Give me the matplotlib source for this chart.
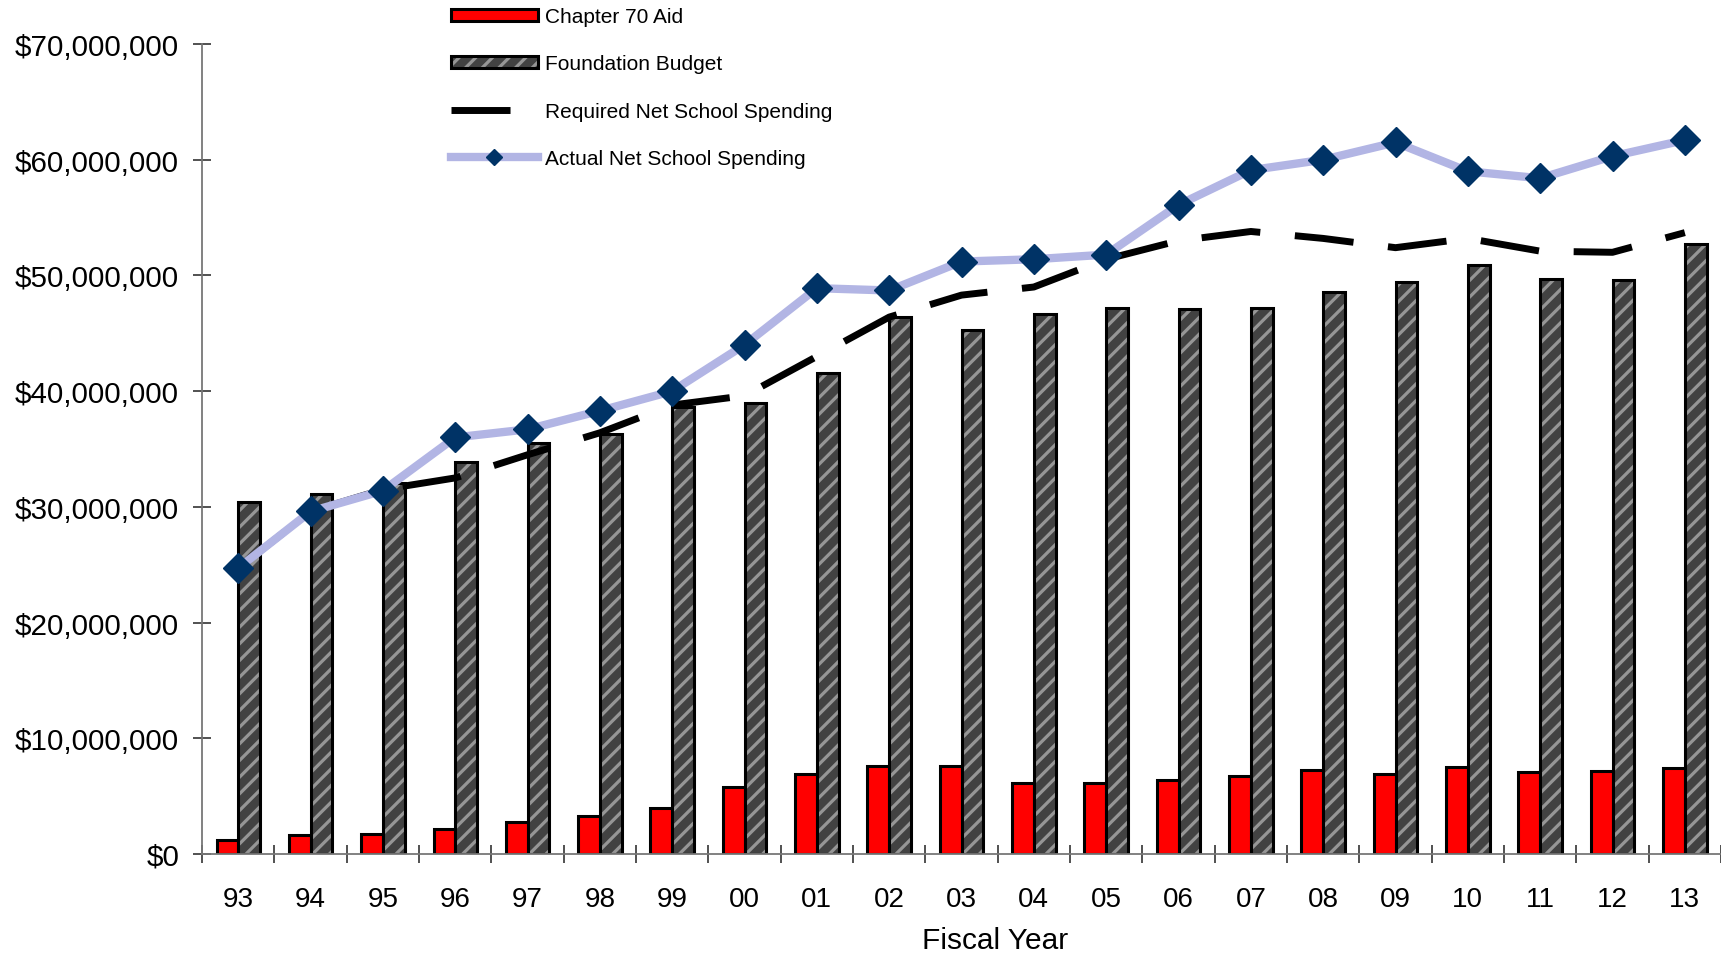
import numpy as np
import matplotlib
matplotlib.use("Agg")
import matplotlib.pyplot as plt
from matplotlib.ticker import StrMethodFormatter, FixedLocator
from matplotlib.patches import Patch
from matplotlib.lines import Line2D
from matplotlib.legend_handler import HandlerTuple

plt.rcParams['font.family'] = ['Liberation Sans', 'DejaVu Sans']
plt.rcParams['hatch.linewidth'] = 2.3

# data
years = ['93', '94', '95', '96', '97', '98', '99', '00', '01', '02', '03',
         '04', '05', '06', '07', '08', '09', '10', '11', '12', '13']
chapter70 = [1.2, 1.6, 1.7, 2.2, 2.75, 3.3, 4.0, 5.8, 6.9, 7.6, 7.6,
             6.1, 6.1, 6.4, 6.7, 7.3, 6.9, 7.5, 7.1, 7.2, 7.4]
foundation = [30.4, 31.1, 32.1, 33.9, 35.5, 36.3, 38.6, 39.0, 41.6, 46.4, 45.3,
              46.7, 47.2, 47.1, 47.2, 48.6, 49.4, 50.9, 49.7, 49.6, 52.7]
required_nss = [24.7, 29.6, 31.5, 32.5, 34.5, 36.4, 38.8, 39.6, 43.0, 46.4, 48.3,
                49.0, 51.4, 53.0, 53.8, 53.2, 52.4, 53.2, 52.1, 52.0, 53.7]
actual_nss = [24.7, 29.6, 31.4, 36.0, 36.7, 38.3, 40.0, 44.0, 48.9, 48.7, 51.2,
              51.4, 51.8, 56.1, 59.1, 60.0, 61.5, 59.0, 58.4, 60.3, 61.7]

M = 1e6
x = np.arange(len(years))
w = 0.3
RED = '#ff0000'
DARK = '#424242'
STRIPE = '#969696'
LAV = '#b2b5e4'
NAVY = '#003366'

fig = plt.figure(figsize=(17.21, 9.54), dpi=100)
ax = fig.add_axes([0.1174, 0.1038, 0.8826, 0.849])

ax.bar(x - w / 2, np.array(chapter70) * M, width=w, color=RED,
       edgecolor='black', linewidth=2.2, zorder=2)
# hatched fill first, then black outline on top
ax.bar(x + w / 2, np.array(foundation) * M, width=w, color=DARK,
       edgecolor=STRIPE, hatch='//', linewidth=0, zorder=2)
ax.bar(x + w / 2, np.array(foundation) * M, width=w, fill=False,
       edgecolor='black', linewidth=2.2, zorder=2)

ax.plot(x, np.array(required_nss) * M, color='black', lw=5,
        dashes=(8.5, 5), zorder=3)
ax.plot(x, np.array(actual_nss) * M, color=LAV, lw=6, marker='D',
        markersize=15, markerfacecolor=NAVY, markeredgecolor=NAVY, zorder=4)

ax.set_xlim(-0.5, len(years) - 0.5)
ax.set_ylim(0, 70 * M)
ax.yaxis.set_major_formatter(StrMethodFormatter('${x:,.0f}'))
ax.set_yticks(np.arange(0, 70 * M + 1, 10 * M))

ax.xaxis.set_major_locator(FixedLocator(np.arange(-0.5, len(years), 1.0)))
ax.xaxis.set_minor_locator(FixedLocator(x))
ax.set_xticklabels([])
ax.set_xticklabels(years, minor=True)
ax.tick_params(axis='x', which='major', direction='inout', length=13,
               width=1.2, color='#333333')
ax.tick_params(axis='x', which='minor', length=0, pad=23, labelsize=20)
ax.tick_params(axis='y', direction='inout', length=13, width=1.2,
               color='#333333', labelsize=21.3, pad=10)

for s in ['top', 'right']:
    ax.spines[s].set_visible(False)
for s in ['left', 'bottom']:
    ax.spines[s].set_color('#777777')
    ax.spines[s].set_linewidth(1.3)

ax.set_xlabel('Fiscal Year', fontsize=21.5, va='center')
ax.xaxis.set_label_coords(0.522, -0.106)

handles = [
    Patch(facecolor=RED, edgecolor='black', linewidth=2.2),
    (Patch(facecolor=DARK, edgecolor=STRIPE, hatch='//', linewidth=0),
     Patch(fill=False, edgecolor='black', linewidth=2.2)),
    Line2D([], [], color='black', lw=5, dashes=(8.5, 5)),
    Line2D([], [], color=LAV, lw=6, marker='D', markersize=8,
           markerfacecolor=NAVY, markeredgecolor=NAVY),
]
labels = ['Chapter 70 Aid', 'Foundation Budget',
          'Required Net School Spending', 'Actual Net School Spending']
fig.legend(handles, labels, loc='upper left', bbox_to_anchor=(0.257, 1.0),
           frameon=False, fontsize=15, handlelength=4.2, handleheight=0.55,
           handletextpad=0.32, labelspacing=1.35, borderaxespad=0.0,
           handler_map={tuple: HandlerTuple(ndivide=1, pad=0)})

fig.savefig('out.png', dpi=100)
